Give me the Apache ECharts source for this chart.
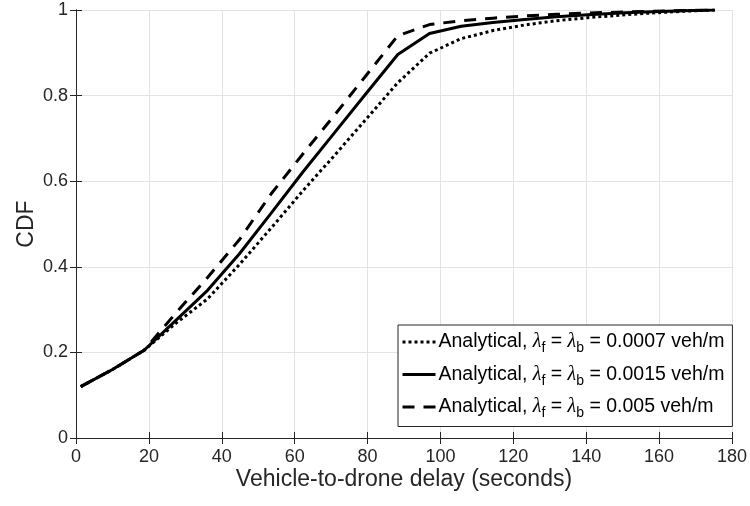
<!DOCTYPE html>
<html>
<head>
<meta charset="utf-8">
<script src="https://cdn.jsdelivr.net/npm/echarts@6/dist/echarts.min.js"></script>
<style>
html,body{margin:0;padding:0;background:#fff;}
#chart{width:750px;height:506px;}
</style>
</head>
<body>
<div id="chart"></div>
<script>
// x values (seconds)
const delay = [1.3, 10, 18.7, 27.4, 36.1, 44.8, 53.5, 62.2, 70.9, 79.6, 88.3, 97, 105.7, 114.4, 123.1, 131.8, 140.5, 149.2, 157.9, 166.6, 175.3];
// CDF values
const cdf0007 = [0.12, 0.16, 0.205, 0.268, 0.325, 0.405, 0.49, 0.577, 0.66, 0.745, 0.83, 0.899, 0.933, 0.952, 0.965, 0.975, 0.982, 0.988, 0.993, 0.997, 1.0];
const cdf0015 = [0.12, 0.16, 0.205, 0.275, 0.345, 0.43, 0.525, 0.621, 0.713, 0.805, 0.896, 0.945, 0.962, 0.971, 0.978, 0.984, 0.989, 0.993, 0.996, 0.998, 1.0];
const cdf005  = [0.12, 0.16, 0.205, 0.292, 0.375, 0.463, 0.57, 0.663, 0.754, 0.847, 0.94, 0.966, 0.975, 0.981, 0.986, 0.99, 0.993, 0.995, 0.997, 0.999, 1.0];
const densities = ['0.0007', '0.0015', '0.005'];
const seriesNames = ['d0007', 'd0015', 'd005'];
const lineTypes = ['dotted', 'solid', [12, 9]];
const xTitle = 'Vehicle-to-drone delay (seconds)';
const yTitle = 'CDF';

const zip = (xs, ys) => xs.map((x, i) => [x, ys[i]]);
const axisColor = '#262626';
const gridColor = '#e3e3e3';
const font = 'Liberation Sans';

const chart = echarts.init(document.getElementById('chart'), null, {renderer: 'canvas'});

const baseX = {
  type: 'value', min: 0, max: 180, interval: 20,
  axisLine: {show: true, lineStyle: {color: axisColor, width: 1}},
  axisTick: {show: true, inside: true, length: 6, lineStyle: {color: axisColor}},
};
const baseY = {
  type: 'value', min: 0, max: 1, interval: 0.2,
  axisLine: {show: true, lineStyle: {color: axisColor, width: 1}},
  axisTick: {show: true, inside: true, length: 6, lineStyle: {color: axisColor}},
};

function lineSeries(i, ys) {
  return {
    name: seriesNames[i], type: 'line', data: zip(delay, ys),
    symbol: 'none', showSymbol: false, smooth: false, animation: false,
    lineStyle: {color: '#000', width: 3, type: lineTypes[i], cap: 'butt'},
    itemStyle: {color: '#000'},
    z: 3
  };
}

chart.setOption({
  animation: false,
  backgroundColor: '#fff',
  grid: {left: 76, right: 16, top: 10, bottom: 68},
  xAxis: [
    Object.assign({}, baseX, {
      position: 'bottom',
      axisLabel: {color: axisColor, fontSize: 18, fontFamily: font, margin: 10},
      splitLine: {show: true, lineStyle: {color: gridColor, width: 1}},
      name: xTitle, nameLocation: 'middle', nameGap: 30, nameMoveOverlap: false,
      nameTextStyle: {color: axisColor, fontSize: 23, fontFamily: font}
    }),
    Object.assign({}, baseX, {
      position: 'top',
      axisLabel: {show: false},
      splitLine: {show: false}
    })
  ],
  yAxis: [
    Object.assign({}, baseY, {
      position: 'left',
      axisLabel: {color: axisColor, fontSize: 18, fontFamily: font, margin: 8},
      splitLine: {show: true, lineStyle: {color: gridColor, width: 1}},
      name: yTitle, nameLocation: 'middle', nameGap: 38, nameMoveOverlap: false,
      nameTextStyle: {color: axisColor, fontSize: 23, fontFamily: font}
    }),
    Object.assign({}, baseY, {
      position: 'right',
      axisLabel: {show: false},
      splitLine: {show: false}
    })
  ],
  legend: {
    show: true,
    orient: 'vertical',
    left: 398, top: 325,
    padding: [7, 8, 6, 3],
    itemGap: 9,
    itemWidth: 33, itemHeight: 14,
    backgroundColor: '#fff',
    borderColor: axisColor, borderWidth: 1,
    itemStyle: {opacity: 0},
    data: seriesNames.map((n, i) => ({name: n, itemStyle: {opacity: 0}, lineStyle: {width: 3, type: lineTypes[i], color: '#000', cap: 'butt'}})),
    formatter: function (name) {
      const i = seriesNames.indexOf(name);
      return '{t|Analytical, }{g|λ}{s|f}{t| = }{g|λ}{s|b}{t| = ' + densities[i] + ' veh/m}';
    },
    textStyle: {
      color: '#000', fontSize: 19.5, fontFamily: font, padding: [0, 0, 0, -2],
      rich: {
        t: {fontSize: 19.5, fontFamily: font, color: '#000'},
        g: {fontSize: 20, fontFamily: 'Liberation Serif', fontStyle: 'italic', color: '#000'},
        s: {fontSize: 14, fontFamily: font, color: '#000', padding: [13, 0, 0, 0]}
      }
    }
  },
  series: [
    lineSeries(0, cdf0007),
    lineSeries(1, cdf0015),
    lineSeries(2, cdf005)
  ]
});
</script>
</body>
</html>
